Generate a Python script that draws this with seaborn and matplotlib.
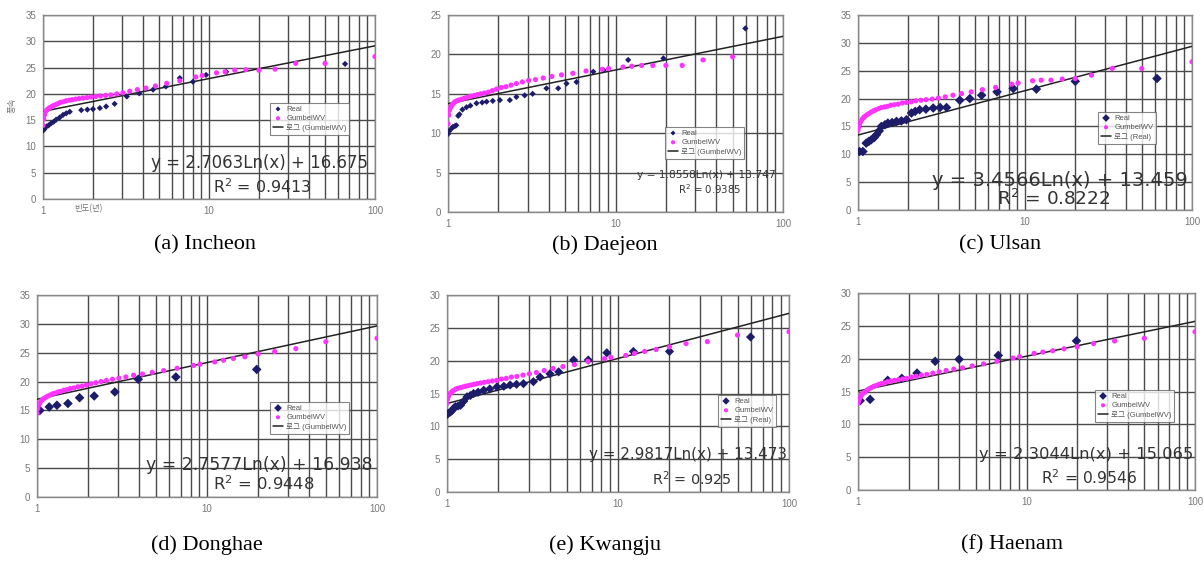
import numpy as np
import pandas as pd
import matplotlib
matplotlib.use("Agg")
import matplotlib.pyplot as plt
import seaborn as sns

sns.set_style("white")
plt.rcParams['font.family'] = ['Liberation Sans', 'Noto Sans CJK KR', 'DejaVu Sans']

# ---------------- data ----------------
panel_names = ["(a) Incheon", "(b) Daejeon", "(c) Ulsan", "(d) Donghae", "(e) Kwangju", "(f) Haenam"]

gumbel_x = [1.0, 1.01, 1.02, 1.04, 1.06, 1.08, 1.1, 1.13, 1.16, 1.2, 1.24, 1.28, 1.33, 1.38, 1.44,
            1.5, 1.57, 1.65, 1.74, 1.84, 1.95, 2.08, 2.22, 2.38, 2.56, 2.78, 3.03, 3.33, 3.7, 4.17,
            4.76, 5.56, 6.67, 8.33, 9.09, 11.1, 12.5, 14.3, 16.7, 20, 25, 33.3, 50, 100]

gumbel_a = [14.0, 15.2, 16.0, 16.7, 17.0, 17.2, 17.4, 17.6, 17.8, 18.0, 18.2, 18.4, 18.5, 18.7, 18.8,
            18.9, 19.0, 19.1, 19.2, 19.3, 19.4, 19.5, 19.6, 19.7, 19.8, 20.0, 20.2, 20.5, 20.8, 21.1,
            21.5, 22.0, 22.5, 23.2, 23.5, 24.0, 24.2, 24.5, 24.6, 24.5, 24.7, 25.8, 25.8, 27.1]
gumbel_b = [11.2, 12.3, 12.9, 13.3, 13.6, 13.8, 14.0, 14.1, 14.2, 14.3, 14.4, 14.5, 14.6, 14.7, 14.8,
            14.9, 15.0, 15.1, 15.2, 15.4, 15.6, 15.8, 15.9, 16.1, 16.3, 16.5, 16.7, 16.8, 17.0, 17.2,
            17.4, 17.6, 17.9, 18.1, 18.2, 18.4, 18.5, 18.6, 18.6, 18.6, 18.6, 19.3, 19.7]
gumbel_c = [14.3, 14.9, 15.4, 15.9, 16.3, 16.6, 16.8, 17.1, 17.3, 17.6, 17.8, 18.0, 18.2, 18.4, 18.5,
            18.6, 18.8, 18.9, 19.0, 19.2, 19.3, 19.4, 19.6, 19.7, 19.8, 19.9, 20.1, 20.3, 20.6, 20.9,
            21.2, 21.6, 22.0, 22.6, 22.8, 23.2, 23.3, 23.3, 23.5, 23.6, 24.2, 25.4, 25.4, 26.6]
gumbel_d = [14.5, 15.3, 15.8, 16.3, 16.7, 16.9, 17.1, 17.3, 17.5, 17.7, 17.9, 18.0, 18.2, 18.3, 18.5,
            18.6, 18.8, 18.9, 19.1, 19.2, 19.4, 19.6, 19.8, 20.0, 20.2, 20.4, 20.6, 20.8, 21.1, 21.3,
            21.6, 21.9, 22.3, 22.8, 23.0, 23.4, 23.7, 24.0, 24.3, 24.8, 25.2, 25.7, 26.9, 27.5]
gumbel_e = [13.5, 14.2, 14.6, 15.0, 15.2, 15.4, 15.5, 15.7, 15.8, 15.9, 16.0, 16.1, 16.2, 16.3, 16.4,
            16.5, 16.6, 16.7, 16.8, 16.9, 17.0, 17.2, 17.3, 17.5, 17.6, 17.8, 18.0, 18.2, 18.5, 18.8,
            19.1, 19.4, 19.9, 20.3, 20.5, 20.8, 21.1, 21.4, 21.7, 22.1, 22.6, 22.9, 23.9, 24.4]
gumbel_f = [13.2, 13.6, 13.9, 14.3, 14.6, 14.8, 14.9, 15.2, 15.4, 15.6, 15.8, 15.9, 16.1, 16.2, 16.3,
            16.5, 16.6, 16.7, 16.8, 16.9, 17.0, 17.2, 17.3, 17.5, 17.6, 17.8, 18.0, 18.2, 18.4, 18.6,
            18.9, 19.2, 19.6, 20.1, 20.3, 20.8, 21.0, 21.2, 21.5, 21.8, 22.3, 22.7, 23.1, 24.1]

real_x_a = [1.0, 1.02, 1.05, 1.08, 1.12, 1.16, 1.2, 1.26, 1.32, 1.38, 1.45, 1.7, 1.85, 2.0, 2.2, 2.4,
            2.7, 3.2, 3.8, 4.6, 5.5, 6.67, 8.0, 9.6, 12.7, 66]
real_y_a = [13.0, 13.3, 13.8, 14.0, 14.4, 14.7, 15.1, 15.5, 16.0, 16.3, 16.6, 16.9, 17.0, 17.1, 17.3, 17.6,
            18.1, 19.5, 20.1, 20.8, 21.4, 23.0, 22.3, 23.6, 24.2, 25.7]
real_x_b = [1.0, 1.02, 1.05, 1.07, 1.1, 1.12, 1.15, 1.17, 1.22, 1.29, 1.36, 1.48, 1.6, 1.7, 1.85, 2.04,
            2.34, 2.56, 2.87, 3.2, 3.87, 4.55, 5.1, 5.85, 7.37, 8.5, 11.9, 19.3, 59.6]
real_y_b = [9.9, 10.3, 10.6, 10.8, 10.9, 11.0, 12.2, 12.4, 13.0, 13.3, 13.5, 13.8, 13.9, 14.0, 14.1, 14.2,
            14.2, 14.6, 14.8, 15.0, 15.7, 15.7, 16.3, 16.5, 17.8, 18.0, 19.3, 19.5, 23.3]
real_x_c = [1.02, 1.07, 1.12, 1.16, 1.2, 1.25, 1.29, 1.34, 1.38, 1.45, 1.51, 1.6, 1.7, 1.82, 1.95, 2.09,
            2.2, 2.34, 2.55, 2.82, 3.1, 3.39, 4.07, 4.67, 5.5, 6.8, 8.5, 11.7, 20, 61.7]
real_y_c = [10.5, 10.5, 12.0, 12.3, 12.6, 13.0, 13.5, 14.2, 15.0, 15.3, 15.6, 15.7, 15.9, 16.0, 16.2, 17.4,
            17.7, 18.0, 18.1, 18.3, 18.4, 18.4, 19.7, 20.0, 20.6, 21.2, 21.8, 21.7, 23.1, 23.6]
real_x_d = [1.04, 1.18, 1.31, 1.52, 1.78, 2.17, 2.87, 3.94, 6.56, 19.6]
real_y_d = [15.0, 15.6, 15.9, 16.2, 17.2, 17.5, 18.2, 20.4, 20.8, 22.1]
real_x_e = [1.0, 1.02, 1.05, 1.07, 1.1, 1.12, 1.16, 1.2, 1.25, 1.31, 1.37, 1.43, 1.52, 1.64, 1.78, 1.96,
            2.15, 2.34, 2.55, 2.8, 3.2, 3.5, 4.0, 4.5, 5.5, 6.7, 8.6, 12.3, 20.0, 59.6]
real_y_e = [11.8, 12.0, 12.2, 12.4, 12.8, 13.0, 13.1, 13.2, 13.8, 14.5, 14.7, 15.0, 15.2, 15.5, 15.7, 16.0,
            16.1, 16.3, 16.4, 16.5, 16.8, 17.5, 18.0, 18.3, 20.1, 20.1, 21.2, 21.4, 21.4, 23.6]
real_x_f = [1.03, 1.18, 1.5, 1.82, 2.24, 2.87, 3.98, 6.8, 19.8]
real_y_f = [13.6, 13.8, 16.7, 17.0, 17.8, 19.6, 19.9, 20.5, 22.7]

trend_slope = [2.7063, 1.8558, 3.4566, 2.7577, 2.9817, 2.3044]
trend_icept = [16.675, 13.747, 13.459, 16.938, 13.473, 15.065]
r_squared = ["0.9413", "0.9385", "0.8222", "0.9448", "0.925", "0.9546"]
trend_label = ["로그 (GumbelWV)", "로그 (GumbelWV)", "로그 (Real)", "로그 (GumbelWV)", "로그 (Real)", "로그 (GumbelWV)"]
y_max = [35, 25, 35, 35, 30, 30]

gumbel_ys = [gumbel_a, gumbel_b, gumbel_c, gumbel_d, gumbel_e, gumbel_f]
real_xs = [real_x_a, real_x_b, real_x_c, real_x_d, real_x_e, real_x_f]
real_ys = [real_y_a, real_y_b, real_y_c, real_y_d, real_y_e, real_y_f]

# ---------------- layout (pixels) ----------------
W, H = 1204, 565
fig = plt.figure(figsize=(W / 100, H / 100), dpi=100)
fig.patch.set_facecolor("white")

# left, right, top, bottom
boxes = [(43, 375, 15, 199), (448, 783, 15, 212), (858, 1192, 15, 210),
         (37, 377, 295, 497), (447, 789, 295, 492), (858, 1195, 293, 490)]
legend_pos = [(270, 103), (665, 127), (1098, 112), (270, 402), (718, 395), (1095, 390)]
eq_pos = [(368, 163, 12.0), (776, 175, 7.7), (1188, 180, 14.0), (372, 465, 12.4), (787, 455, 10.9), (1193, 455, 11.8)]
r2_pos = [(262, 187), (710, 189), (1054, 199), (264, 484), (692, 479), (1089, 478)]
caption_pos = [(205, 245), (605, 245), (1000, 245), (207, 545), (605, 545), (1012, 545)]
real_size = [10, 10, 24, 24, 22, 24]

def fx(px):
    return px / W

def fy(py):
    return 1 - py / H

grid_col = "#4a4a4a"
for i in range(6):
    l, r, t, b = boxes[i]
    ax = fig.add_axes([fx(l), fy(b), (r - l) / W, (b - t) / H])
    ax.set_facecolor("white")
    gx = gumbel_x[:len(gumbel_ys[i])]
    df_g = pd.DataFrame({"x": gx, "y": gumbel_ys[i]})
    df_r = pd.DataFrame({"x": real_xs[i], "y": real_ys[i]})
    xl = np.geomspace(1, 100, 200)
    df_t = pd.DataFrame({"x": xl, "y": trend_slope[i] * np.log(xl) + trend_icept[i]})

    sns.lineplot(data=df_t, x="x", y="y", ax=ax, color="#222222", lw=1.1, label=trend_label[i], zorder=3)
    sns.scatterplot(data=df_r, x="x", y="y", ax=ax, marker="D", color="#1c1c6b", s=real_size[i],
                    edgecolor="none", label="Real", zorder=4)
    sns.scatterplot(data=df_g, x="x", y="y", ax=ax, marker="o", color="#ff33ff", s=14,
                    edgecolor="none", label="GumbelWV", zorder=5)

    ax.set_xscale("log")
    ax.set_xlim(1, 100)
    ax.set_ylim(0, y_max[i])
    ax.set_yticks(np.arange(0, y_max[i] + 1, 5))
    ax.set_xticks([1, 10, 100])
    ax.set_xticklabels(["1", "10", "100"])
    ax.grid(True, which="both", axis="x", color=grid_col, lw=1.0)
    ax.grid(True, which="major", axis="y", color=grid_col, lw=1.0)
    ax.tick_params(axis="both", which="both", length=0, labelsize=7, labelcolor="#777777", pad=5)
    ax.set_xlabel("")
    ax.set_ylabel("")
    for s in ax.spines.values():
        s.set_color("#888888")
        s.set_linewidth(1.0)

    # legend
    h, lab = ax.get_legend_handles_labels()
    order = [lab.index("Real"), lab.index("GumbelWV"), lab.index(trend_label[i])]
    lx, ly = legend_pos[i]
    leg = ax.legend([h[k] for k in order], [lab[k] for k in order],
                    loc="upper left", bbox_to_anchor=(fx(lx), fy(ly)), bbox_transform=fig.transFigure,
                    fontsize=5.5, frameon=True, fancybox=False, borderpad=0.35, labelspacing=0.25,
                    handlelength=1.4, handletextpad=0.4, borderaxespad=0, markerscale=0.8)
    leg.get_frame().set_edgecolor("#666666")
    leg.get_frame().set_linewidth(0.8)
    for t_ in leg.get_texts():
        t_.set_color("#555555")
        t_.set_family(["Liberation Sans", "Noto Sans CJK KR", "DejaVu Sans"])

    ex, ey, fs = eq_pos[i]
    fig.text(fx(ex), fy(ey), f"y = {trend_slope[i]:.4f}Ln(x) + {trend_icept[i]:.3f}",
             ha="right", va="center", fontsize=fs, color="#333333", family="DejaVu Sans")
    rx, ry = r2_pos[i]
    fig.text(fx(rx), fy(ry), f"R$^2$ = {r_squared[i]}", ha="center", va="center",
             fontsize=fs * 0.95, color="#333333", family="DejaVu Sans")

    cx, cy = caption_pos[i]
    fig.text(fx(cx), fy(cy), panel_names[i], ha="center", va="center", fontsize=16,
             family="Liberation Serif", color="black")

# axis labels on first panel
fig.text(fx(12), fy(105), "풍속", rotation=90, ha="center", va="center", fontsize=6,
         color="#777777", family=["Noto Sans CJK KR", "DejaVu Sans"])
fig.text(fx(88), fy(209), "빈도(년)", ha="center", va="center", fontsize=6,
         color="#777777", family=["Noto Sans CJK KR", "DejaVu Sans"])

fig.savefig("out.png", dpi=100, facecolor="white")
